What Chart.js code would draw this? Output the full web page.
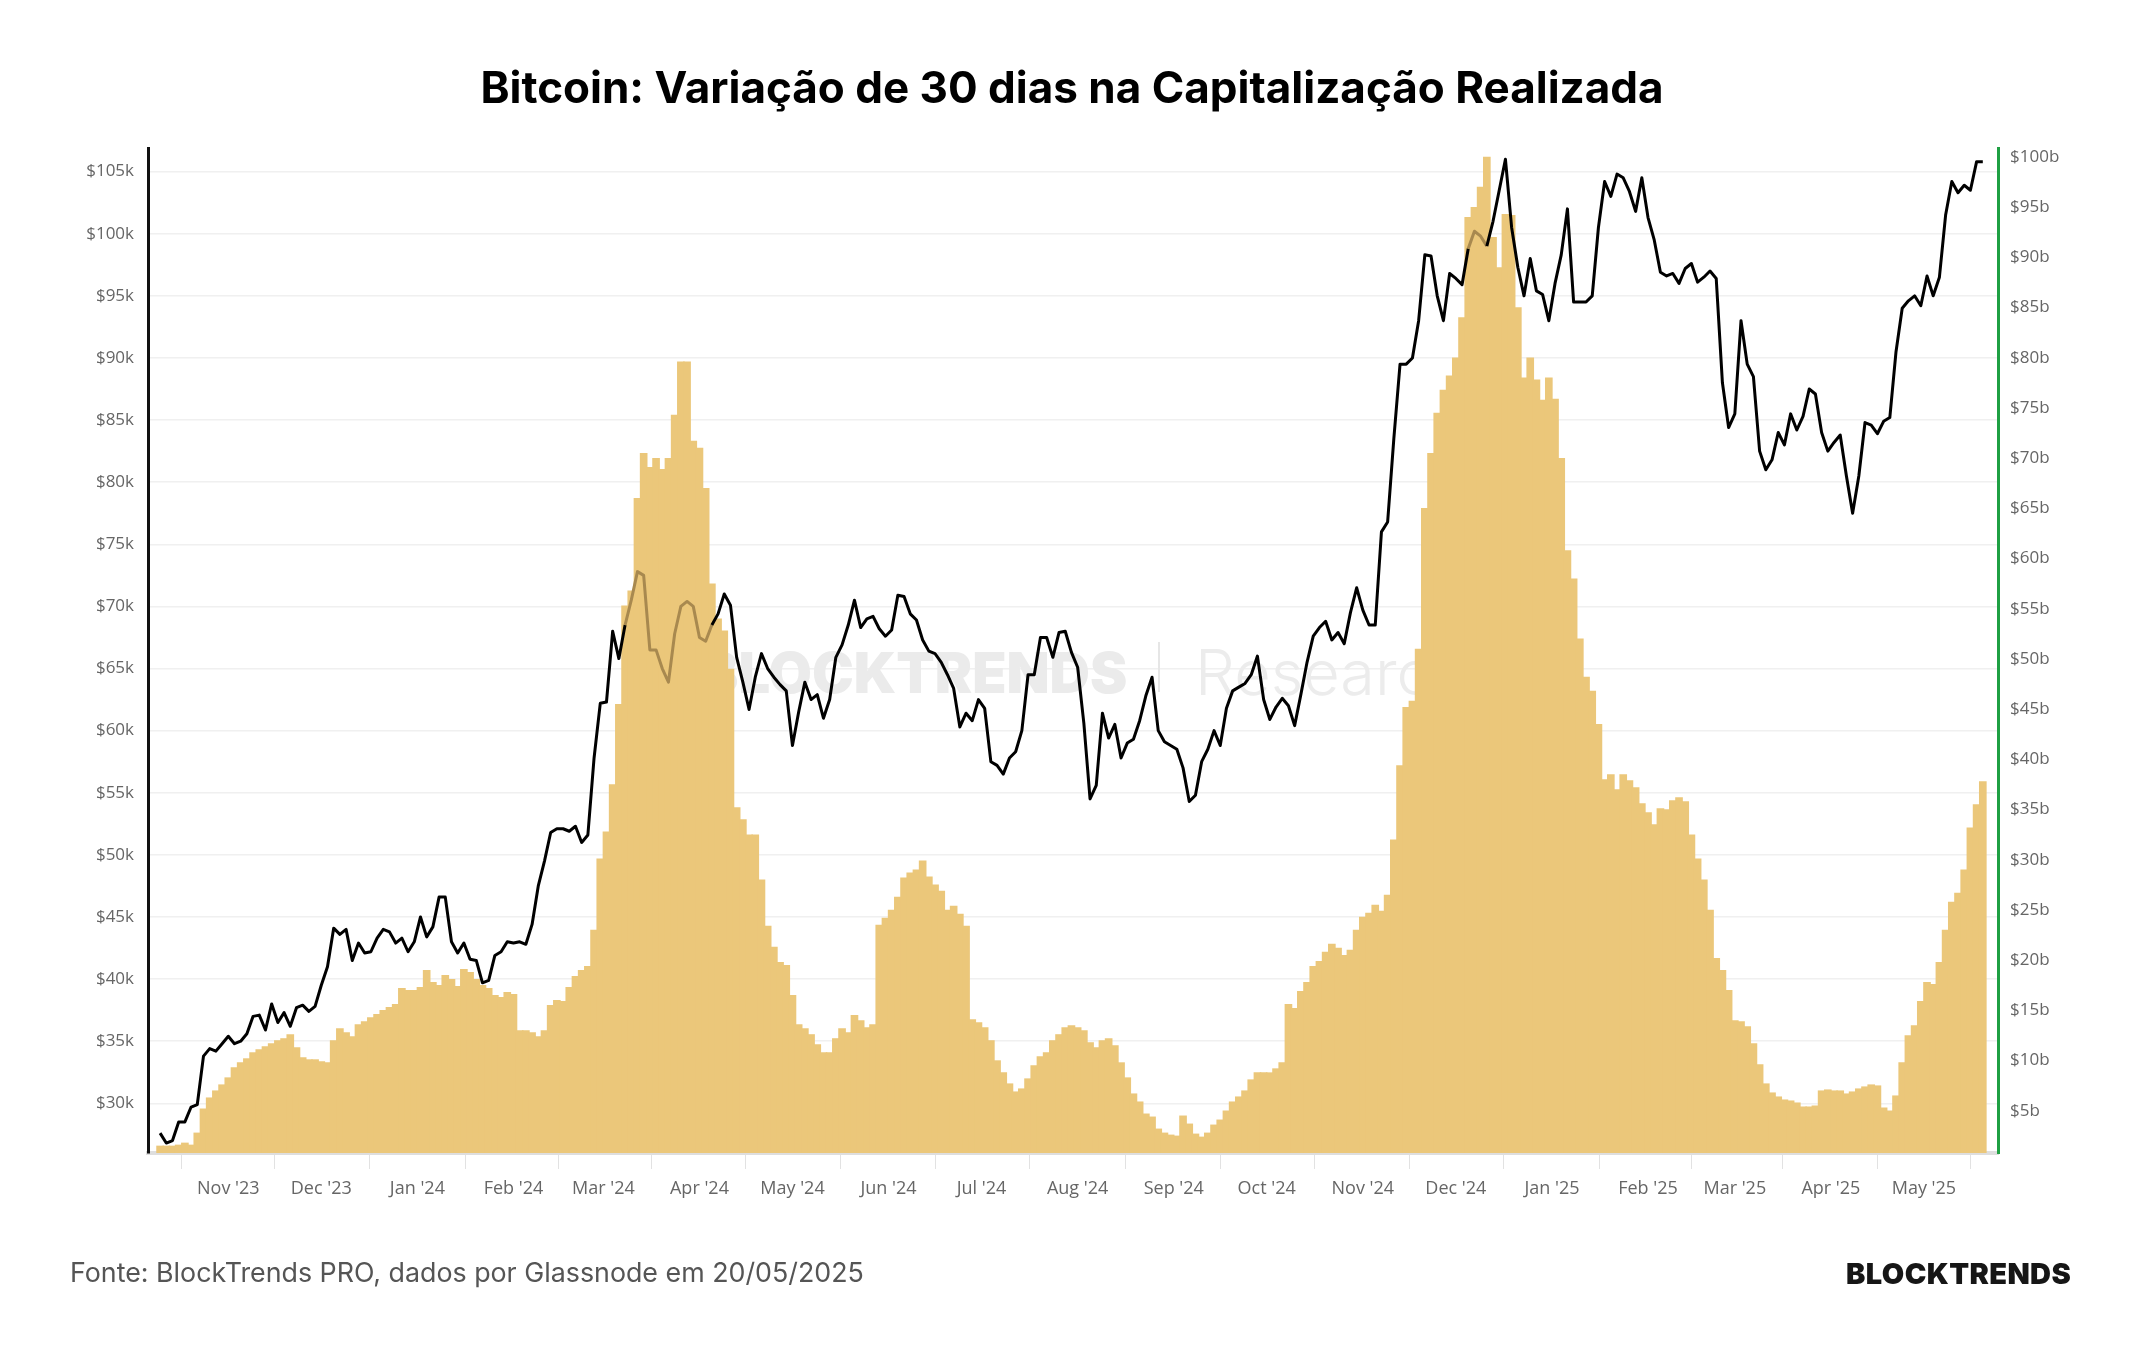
<!DOCTYPE html>
<html>
<head>
<meta charset="utf-8">
<script src="https://cdn.jsdelivr.net/npm/chart.js@4.4.1/dist/chart.umd.min.js"></script>
<style>
  html, body { margin: 0; padding: 0; background: #fff; }
  #wrap { position: relative; width: 2144px; height: 1350px; overflow: hidden; }
  #chart { position: absolute; left: 0; top: 0; }
  .txt { position: absolute; white-space: nowrap; line-height: 1; }
  #title { left: 0; width: 2144px; top: 60px; text-align: center; font: 700 44px Inter, sans-serif; color: #000; }
  #source { left: 70px; top: 1256px; font: 400 26.8px Inter, sans-serif; color: #555; }
  #logo { left: 1846px; top: 1256px; font: 900 29px Inter, sans-serif; color: #161616; letter-spacing: 0.4px; }
</style>
</head>
<body>
<div id="wrap">
  <canvas id="chart" width="2144" height="1350"></canvas>
  <div class="txt" id="title">Bitcoin: Variação de 30 dias na Capitalização Realizada</div>
  <div class="txt" id="source">Fonte: BlockTrends PRO, dados por Glassnode em 20/05/2025</div>
  <div class="txt" id="logo">BLOCKTRENDS</div>
</div>
<script>
// one value every 2 days, starting 10/10/2023
const startDate = '2023-10-10';
const stepDays = 2;

// BTC price, thousands of USD (left axis)
const btcPrice = [
  27.6, 26.8, 27.0, 28.5, 28.5, 29.7, 29.9, 33.8, 34.4, 34.2,
  34.8, 35.4, 34.8, 35.0, 35.6, 37.0, 37.1, 35.9, 38.0, 36.5,
  37.3, 36.2, 37.7, 37.9, 37.4, 37.8, 39.5, 41.0, 44.1, 43.6,
  44.0, 41.5, 42.9, 42.1, 42.2, 43.3, 44.0, 43.8, 42.9, 43.3,
  42.2, 43.0, 45.0, 43.4, 44.2, 46.6, 46.6, 43.0, 42.1, 42.9,
  41.6, 41.5, 39.7, 39.9, 41.9, 42.2, 43.0, 42.9, 43.0, 42.8,
  44.4, 47.5, 49.5, 51.8, 52.1, 52.1, 51.9, 52.3, 51.0, 51.6,
  57.8, 62.2, 62.3, 68.0, 65.8, 68.5, 70.5, 72.8, 72.5, 66.5,
  66.5, 65.0, 63.9, 67.8, 70.0, 70.4, 70.0, 67.5, 67.2, 68.5,
  69.4, 71.0, 70.1, 65.9, 63.9, 61.7, 64.3, 66.2, 65.0, 64.3,
  63.7, 63.2, 58.8, 61.5, 63.9, 62.5, 62.9, 61.0, 62.5, 65.9,
  66.9, 68.5, 70.5, 68.3, 69.0, 69.2, 68.2, 67.6, 68.1, 70.9,
  70.8, 69.4, 68.9, 67.3, 66.4, 66.2, 65.5, 64.5, 63.4, 60.3,
  61.4, 60.8, 62.5, 61.8, 57.5, 57.2, 56.5, 57.8, 58.3, 60.0,
  64.5, 64.5, 67.5, 67.5, 65.9, 67.9, 68.0, 66.3, 65.1, 60.6,
  54.5, 55.6, 61.4, 59.4, 60.5, 57.8, 59.0, 59.3, 60.8, 62.8,
  64.3, 60.0, 59.1, 58.8, 58.5, 57.0, 54.3, 54.8, 57.5, 58.5,
  60.0, 58.8, 61.8, 63.2, 63.5, 63.8, 64.5, 66.0, 62.5, 60.9,
  61.9, 62.6, 62.0, 60.4, 62.9, 65.5, 67.6, 68.3, 68.8, 67.3,
  67.9, 67.0, 69.5, 71.5, 69.7, 68.5, 68.5, 76.0, 76.8, 83.5,
  89.5, 89.5, 90.0, 93.0, 98.3, 98.2, 95.0, 93.0, 96.8, 96.4,
  95.9, 98.8, 100.2, 99.8, 99.0, 101.0, 103.5, 106.0, 100.5, 97.3,
  95.0, 98.0, 95.4, 95.1, 93.0, 96.0, 98.3, 102.0, 94.5, 94.5,
  94.5, 95.0, 100.5, 104.2, 103.0, 104.8, 104.5, 103.4, 101.8, 104.5,
  101.3, 99.5, 96.9, 96.6, 96.8, 96.0, 97.2, 97.6, 96.1, 96.5,
  97.0, 96.4, 88.0, 84.4, 85.5, 93.0, 89.5, 88.5, 82.5, 81.0,
  81.8, 84.0, 83.0, 85.5, 84.2, 85.3, 87.5, 87.1, 84.0, 82.5,
  83.2, 83.8, 80.5, 77.5, 80.5, 84.8, 84.6, 83.9, 84.9, 85.2,
  90.5, 94.0, 94.6, 95.0, 94.2, 96.6, 95.0, 96.5, 101.5, 104.2,
  103.3, 103.9, 103.5, 105.8, 105.8
];

// 30-day change in realized cap, billions of USD (right axis)
const realizedCapChange = [
  1.5, 1.5, 1.5, 1.6, 1.8, 1.6, 2.8, 5.2, 6.3, 7.0,
  7.6, 8.3, 9.3, 9.8, 10.2, 10.8, 11.1, 11.4, 11.7, 12.0,
  12.2, 12.6, 11.3, 10.3, 10.1, 10.1, 9.9, 9.8, 12.0, 13.2,
  12.8, 12.4, 13.6, 13.9, 14.3, 14.6, 15.0, 15.3, 15.6, 17.2,
  17.0, 17.0, 17.3, 19.0, 17.8, 17.5, 18.5, 18.1, 17.4, 19.1,
  18.8, 18.1, 17.5, 17.2, 16.5, 16.3, 16.8, 16.6, 13.0, 13.0,
  12.8, 12.4, 13.0, 15.5, 16.0, 15.9, 17.3, 18.4, 19.0, 19.4,
  23.0, 30.1, 32.8, 37.5, 45.5, 55.3, 56.8, 66.0, 70.5, 69.1,
  70.0, 68.9, 70.0, 74.3, 79.6, 79.6, 71.7, 71.0, 67.0, 57.5,
  54.0, 52.8, 49.0, 35.2, 34.0, 32.5, 32.5, 28.0, 23.4, 21.3,
  19.8, 19.5, 16.5, 13.6, 13.2, 12.6, 11.6, 10.8, 10.8, 12.2,
  13.2, 12.8, 14.5, 14.0, 13.3, 13.6, 23.5, 24.2, 25.0, 26.3,
  28.2, 28.7, 29.0, 29.9, 28.3, 27.5, 26.9, 25.0, 25.4, 24.6,
  23.4, 14.1, 13.8, 13.3, 12.0, 10.0, 8.8, 7.7, 6.9, 7.2,
  8.2, 9.5, 10.4, 10.8, 12.0, 12.6, 13.3, 13.5, 13.3, 13.0,
  11.8, 11.3, 12.0, 12.2, 11.5, 9.8, 8.3, 6.7, 5.9, 4.7,
  4.4, 3.2, 2.8, 2.6, 2.5, 4.5, 3.7, 2.7, 2.4, 2.8,
  3.6, 4.1, 5.0, 5.9, 6.4, 7.0, 8.1, 8.8, 8.8, 8.8,
  9.2, 9.8, 15.6, 15.2, 16.9, 17.8, 19.4, 19.9, 20.8, 21.6,
  21.2, 20.5, 21.0, 23.0, 24.3, 24.7, 25.5, 24.9, 26.5, 32.0,
  39.4, 45.2, 45.8, 51.0, 65.0, 70.5, 74.5, 76.8, 78.2, 80.0,
  84.0, 94.0, 95.0, 97.0, 100.0, 92.0, 89.0, 94.3, 94.2, 85.0,
  78.0, 80.0, 77.8, 75.8, 78.0, 75.9, 70.0, 60.8, 58.0, 52.0,
  48.2, 46.8, 43.5, 38.0, 38.5, 37.0, 38.5, 37.9, 37.2, 35.6,
  34.7, 33.5, 35.1, 35.0, 35.9, 36.2, 35.8, 32.5, 30.1, 28.0,
  25.0, 20.2, 19.0, 17.0, 14.0, 13.9, 13.4, 11.7, 9.6, 7.7,
  6.8, 6.4, 6.1, 6.0, 5.8, 5.4, 5.4, 5.5, 7.0, 7.1,
  7.0, 7.0, 6.7, 6.9, 7.2, 7.4, 7.6, 7.5, 5.3, 5.0,
  6.5, 9.8, 12.5, 13.5, 15.9, 17.8, 17.6, 19.8, 23.0, 25.8,
  26.7, 29.0, 33.2, 35.5, 37.8
];

const monthStarts = [
  '2023-11-01', '2023-12-01', '2024-01-01', '2024-02-01', '2024-03-01', '2024-04-01',
  '2024-05-01', '2024-06-01', '2024-07-01', '2024-08-01', '2024-09-01', '2024-10-01',
  '2024-11-01', '2024-12-01', '2025-01-01', '2025-02-01', '2025-03-01', '2025-04-01', '2025-05-01'
];
const monthLabels = [
  "Nov '23", "Dec '23", "Jan '24", "Feb '24", "Mar '24", "Apr '24",
  "May '24", "Jun '24", "Jul '24", "Aug '24", "Sep '24", "Oct '24",
  "Nov '24", "Dec '24", "Jan '25", "Feb '25", "Mar '25", "Apr '25", "May '25"
];
const priceTicks = [30, 35, 40, 45, 50, 55, 60, 65, 70, 75, 80, 85, 90, 95, 100, 105];
const capTicks = [5, 10, 15, 20, 25, 30, 35, 40, 45, 50, 55, 60, 65, 70, 75, 80, 85, 90, 95, 100];

const DAY = 86400000;
const t0 = Date.parse(startDate + 'T00:00:00Z');
const dayOf = s => (Date.parse(s + 'T00:00:00Z') - t0) / DAY;
const xs = btcPrice.map((_, i) => i * stepDays);
const monthDays = monthStarts.map(dayOf);

const barColor = '#EBC77A';
const lineInBars = '#a8894f';

Chart.defaults.font.family = "'Open Sans', sans-serif";
Chart.defaults.color = '#666';

// faint "BLOCKTRENDS | Research" mark behind the series
const watermark = {
  id: 'watermark',
  beforeDatasetsDraw(chart) {
    const { ctx, chartArea: a } = chart;
    const x = a.left + 563, y = a.top + 528;
    ctx.save();
    ctx.textBaseline = 'middle';
    ctx.fillStyle = '#ebebeb';
    ctx.font = "900 56px Inter, sans-serif";
    ctx.fillText('BLOCKTRENDS', x - 10, y);
    ctx.strokeStyle = '#e6e6e6';
    ctx.lineWidth = 2;
    ctx.beginPath();
    ctx.moveTo(x + 448, y - 34);
    ctx.lineTo(x + 448, y + 16);
    ctx.stroke();
    ctx.fillStyle = '#ececec';
    ctx.font = "300 63px Inter, sans-serif";
    ctx.fillText('Research', x + 484, y);
    ctx.restore();
  }
};

const ctx = document.getElementById('chart').getContext('2d');

new Chart(ctx, {
  data: {
    datasets: [
      {
        type: 'line',
        data: xs.map((x, i) => ({ x, y: btcPrice[i] })),
        yAxisID: 'y',
        borderColor: '#000',
        borderWidth: 3,
        borderJoinStyle: 'round',
        pointRadius: 0,
        tension: 0,
        order: 0,
        segment: {
          // darker gold where the price line runs inside the bars
          borderColor: c => {
            const y1 = c.chart.scales.y1;
            const top0 = y1.getPixelForValue(realizedCapChange[c.p0DataIndex]);
            const top1 = y1.getPixelForValue(realizedCapChange[c.p1DataIndex]);
            return (c.p0.y > top0 && c.p1.y > top1) ? lineInBars : '#000';
          }
        }
      },
      {
        type: 'bar',
        data: xs.map((x, i) => ({ x, y: realizedCapChange[i] })),
        yAxisID: 'y1',
        backgroundColor: barColor,
        borderWidth: 0,
        barThickness: 7,
        order: 1
      }
    ]
  },
  options: {
    responsive: false,
    animation: false,
    devicePixelRatio: 1,
    layout: { padding: { top: 148, bottom: 137, left: 0, right: 0 } },
    plugins: {
      legend: { display: false },
      tooltip: { enabled: false }
    },
    scales: {
      x: {
        type: 'linear',
        min: -3.9,
        max: 592.9,
        offset: false,
        afterBuildTicks: axis => { axis.ticks = monthDays.map(v => ({ value: v })); },
        afterFit: axis => { axis.height = 60; },
        ticks: {
          autoSkip: false,
          maxRotation: 0,
          padding: 9,
          color: '#666',
          font: { size: 18 },
          callback: v => monthLabels[monthDays.indexOf(v)]
        },
        grid: { drawOnChartArea: false, drawTicks: true, tickLength: 16, color: '#e2e2e2' },
        border: { color: '#dedede', width: 4 }
      },
      y: {
        position: 'left',
        min: 26.0,
        max: 106.9,
        afterBuildTicks: axis => { axis.ticks = priceTicks.map(v => ({ value: v })); },
        afterFit: axis => { axis.width = 148; },
        ticks: {
          padding: 14,
          color: '#666',
          font: { size: 17 },
          callback: v => '$' + v + 'k'
        },
        grid: { color: '#f0f0f0', lineWidth: 1.5, drawTicks: false },
        border: { color: '#111', width: 3 }
      },
      y1: {
        position: 'right',
        min: 0.8,
        max: 100.9,
        afterBuildTicks: axis => { axis.ticks = capTicks.map(v => ({ value: v })); },
        afterFit: axis => { axis.width = 146; },
        ticks: {
          padding: 12,
          color: '#666',
          font: { size: 17 },
          callback: v => '$' + v + 'b'
        },
        grid: { drawOnChartArea: false, drawTicks: false },
        border: { color: '#1fa043', width: 3 }
      }
    }
  },
  plugins: [watermark]
});
</script>
</body>
</html>
